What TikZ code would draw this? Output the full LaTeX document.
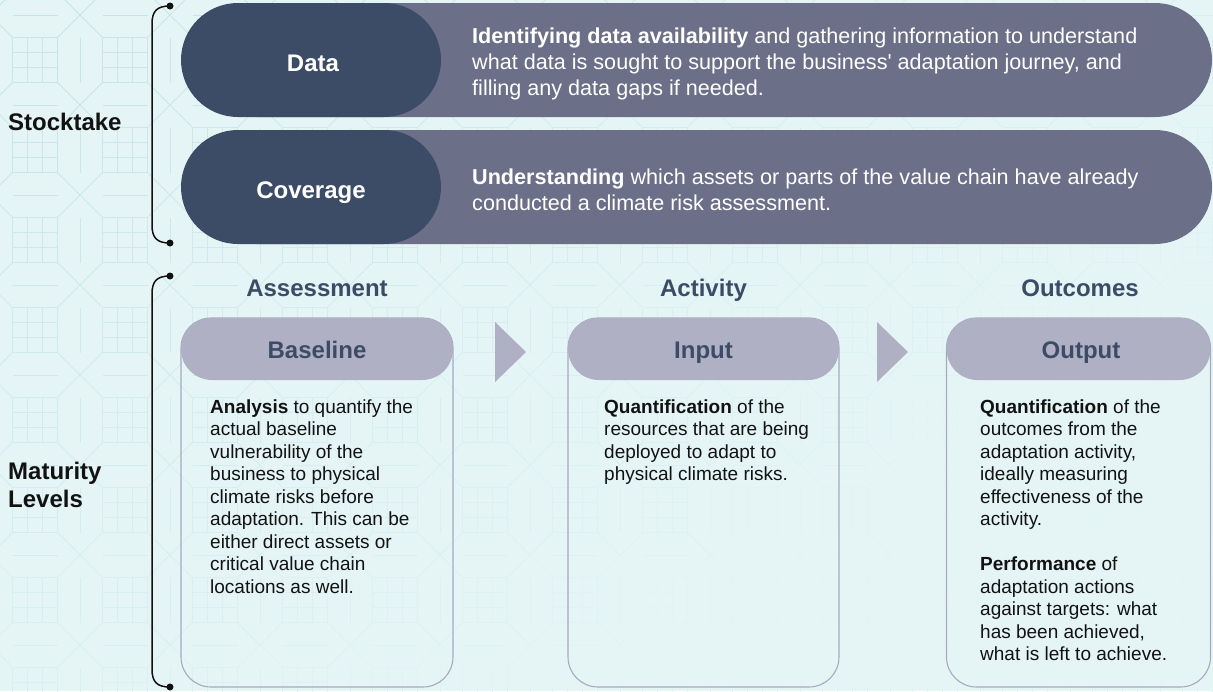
\documentclass[tikz,border=0pt]{standalone}
\usepackage{fontspec}
\setmainfont{Liberation Sans}
\usetikzlibrary{calc}

\definecolor{bgc}{HTML}{E5F5F5}
\definecolor{patc}{HTML}{C8E5E8}
\definecolor{navy}{HTML}{3D4C66}
\definecolor{slate}{HTML}{6B6F88}
\definecolor{lav}{HTML}{AFB0C4}
\definecolor{cardline}{HTML}{A7A9C1}
\definecolor{ink}{HTML}{121212}

% a straight (typewriter) apostrophe
\newcommand{\sq}{{\addfontfeatures{Ligatures=TeXOff}'}}

\begin{document}
\begin{tikzpicture}[x=1pt,y=-1pt,
  darkpill/.style={fill=navy, draw=none, rounded corners=57pt, minimum width=260pt, minimum height=114pt, inner sep=0pt},
  greypill/.style={fill=slate, draw=none, rounded corners=57pt, minimum width=1012pt, minimum height=114pt, inner sep=0pt},
  cardbox/.style={draw=cardline, line width=1.1pt, fill=none, rounded corners=30pt, minimum height=369pt, inner sep=0pt},
  cardhead/.style={fill=lav, draw=none, rounded corners=31pt, minimum height=62pt, inner sep=0pt},
  pilltitle/.style={text=white, font=\fontsize{24}{28}\selectfont\bfseries, anchor=base, inner sep=0pt},
  pilltext/.style={text=white, font=\fontsize{21.6}{26}\selectfont, anchor=base west, align=left, inner sep=0pt},
  sidelabel/.style={text=ink, font=\fontsize{24}{28}\selectfont\bfseries, anchor=base west, align=left, inner sep=0pt},
  colhead/.style={text=navy, font=\fontsize{24}{28}\selectfont\bfseries, anchor=base, inner sep=0pt},
  bodytext/.style={text=ink, font=\fontsize{19}{22.5}\selectfont, anchor=base west, align=left, inner sep=0pt},
  bracketline/.style={draw=ink, line width=1.5pt},
  enddot/.style={fill=ink},
  chevron/.style={fill=lav, draw=none}
]
\useasboundingbox (0,0) rectangle (1213,691);

% background and its faint octagonal lattice, fading towards the lower right
\fill[bgc] (0,0) rectangle (1213,691);
\begin{scope}
  \clip (0,0) rectangle (1213,691);
  \foreach \i in {-1,...,13} {
    \foreach \j in {-1,...,7} {
      \pgfmathtruncatemacro\mix{max(8, 100 - 5*\i - 9*\j)}
      \begin{scope}[shift={({35+90*\i},{60+90*\j})}, draw=patc!\mix!bgc, line width=0.9pt]
        \foreach \k in {-22.5,-7.5,7.5,22.5} {
          \draw (\k,-22.5) -- (\k,22.5);
          \draw (-22.5,\k) -- (22.5,\k);
        }
        \draw (22.5,22.5) -- (45,45) (-22.5,22.5) -- (-45,45)
              (22.5,-22.5) -- (45,-45) (-22.5,-22.5) -- (-45,-45);
        \draw (45,-22.5) -- (45,22.5) (-22.5,45) -- (22.5,45);
      \end{scope}
    }
  }
\end{scope}

% ---------- Stocktake ----------
% (multi-line texts are anchored at the baseline of their last line)
\node[greypill] (databg) at (706,60) {};
\node[darkpill] (data) at (311,60) {};
\node[pilltitle] (datat) at (313,71) {Data};
\node[pilltext] (datad) at (472,95) {\textbf{Identifying data availability} and gathering information to understand\\what data is sought to support the business\sq{} adaptation journey, and\\filling any data gaps if needed.};

\node[greypill] (covbg) at (706,187) {};
\node[darkpill] (cov) at (311,187) {};
\node[pilltitle] (covt) at (311,198) {Coverage};
\node[pilltext] (covd) at (472,210) {\textbf{Understanding} which assets or parts of the value chain have already\\conducted a climate risk assessment.};

\coordinate (st-top) at (170,6);
\coordinate (st-bot) at (170,243);
\draw[bracketline] (st-top) .. controls +(-13,0) and +(0,-13) .. ($(st-top)+(-18,18)$)
  -- ($(st-bot)+(-18,-18)$) .. controls +(0,13) and +(-13,0) .. (st-bot);
\fill[enddot] (st-top) circle (3.5pt);
\fill[enddot] (st-bot) circle (3.5pt);
\node[sidelabel] (stock) at (8,130) {Stocktake};

% ---------- Maturity levels ----------
\coordinate (ml-top) at (170,276);
\coordinate (ml-bot) at (170,687);
\draw[bracketline] (ml-top) .. controls +(-13,0) and +(0,-13) .. ($(ml-top)+(-18,18)$)
  -- ($(ml-bot)+(-18,-18)$) .. controls +(0,13) and +(-13,0) .. (ml-bot);
\fill[enddot] (ml-top) circle (3.5pt);
\fill[enddot] (ml-bot) circle (3.5pt);
\node[sidelabel] (mat) at (8,507) {Maturity\\Levels};

\node[colhead] (h1) at (317,296) {Assessment};
\node[colhead] (h2) at (703.5,296) {Activity};
\node[colhead] (h3) at (1080,296) {Outcomes};

% cards
\node[cardbox, minimum width=272pt] (c1) at (317,502.5) {};
\node[cardhead, minimum width=272pt] (c1h) at (317,349) {};
\node[colhead] (c1t) at (317,358) {Baseline};

\node[cardbox, minimum width=271pt] (c2) at (703.5,502.5) {};
\node[cardhead, minimum width=271pt] (c2h) at (703.5,349) {};
\node[colhead] (c2t) at (703.5,358) {Input};

\node[cardbox, minimum width=264pt] (c3) at (1078.5,502.5) {};
\node[cardhead, minimum width=264pt] (c3h) at (1078.5,349) {};
\node[colhead] (c3t) at (1081,358) {Output};

% chevrons between the cards
\fill[chevron] (495,322) -- (526,352) -- (495,382) -- cycle;
\fill[chevron] (877,322) -- (908,352) -- (877,382) -- cycle;

% card texts
\node[bodytext] (c1b) at (210,593) {\textbf{Analysis} to quantify the\\actual baseline\\vulnerability of the\\business to physical\\climate risks before\\adaptation. This can be\\either direct assets or\\critical value chain\\locations as well.};

\node[bodytext] (c2b) at (604,480.5) {\textbf{Quantification} of the\\resources that are being\\deployed to adapt to\\physical climate risks.};

\node[bodytext] (c3b) at (980,660.5) {\textbf{Quantification} of the\\outcomes from the\\adaptation activity,\\ideally measuring\\effectiveness of the\\activity.\\[22.5pt]\textbf{Performance} of\\adaptation actions\\against targets: what\\has been achieved,\\what is left to achieve.};
\end{tikzpicture}
\end{document}
